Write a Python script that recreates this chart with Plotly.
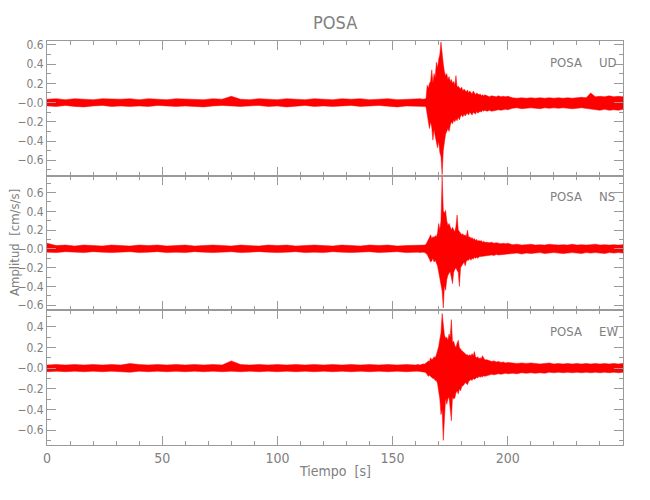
import plotly.graph_objects as go

# ---------------- data (envelopes) ----------------
tiempo = [
    0, 4, 8, 12, 16, 20, 24, 28, 32, 36,
    40, 44, 48, 52, 56, 60, 64, 68, 72, 76,
    80, 84, 88, 92, 96, 100, 104, 108, 112, 116,
    120, 124, 128, 132, 136, 140, 144, 148, 152, 156,
    160,
    161, 162, 163,
    164.0, 164.5, 165.0, 165.5, 166.0, 166.5, 167.0, 167.5, 168.0, 168.5,
    169.0, 169.5, 170.0, 170.5, 171.0, 171.5, 172.0, 172.5, 173.0, 173.5,
    174.0, 174.5, 175.0, 175.5, 176.0, 176.5, 177.0, 177.5, 178.0, 178.5,
    179.0, 179.5, 180.0, 180.5, 181.0, 181.5, 182.0, 182.5, 183.0, 183.5,
    184.0, 184.5, 185.0, 185.5, 186.0, 186.5, 187.0, 187.5, 188.0, 188.5,
    189.0, 189.5, 190.0,
    191, 192, 193, 194, 195, 196, 197, 198, 199, 200,
    202, 204, 206, 208, 210, 212, 214, 216, 218, 220,
    222, 224, 226, 228, 230, 232, 234, 236, 238, 240,
    242, 244, 246, 248, 250,
]

ud_hi = [
    0.035, 0.04, 0.03, 0.04, 0.035, 0.03, 0.04, 0.035, 0.035, 0.04,
    0.03, 0.04, 0.035, 0.03, 0.04, 0.035, 0.035, 0.03, 0.04, 0.035,
    0.065, 0.035, 0.03, 0.04, 0.035, 0.03, 0.04, 0.035, 0.03, 0.04,
    0.035, 0.03, 0.04, 0.035, 0.04, 0.03, 0.035, 0.04, 0.03, 0.035,
    0.035,
    0.035, 0.04, 0.035,
    0.04, 0.04, 0.18, 0.15, 0.2, 0.22, 0.34, 0.2, 0.3, 0.26,
    0.42, 0.36, 0.45, 0.5, 0.63, 0.46, 0.4, 0.32, 0.28, 0.3,
    0.24, 0.27, 0.22, 0.24, 0.2, 0.22, 0.18, 0.28, 0.16, 0.17,
    0.15, 0.14, 0.16, 0.12, 0.14, 0.13, 0.11, 0.13, 0.1, 0.12,
    0.11, 0.09, 0.12, 0.1, 0.08, 0.1, 0.09, 0.08, 0.09, 0.07,
    0.08, 0.07, 0.08,
    0.07, 0.06, 0.07, 0.065, 0.06, 0.07, 0.06, 0.065, 0.06, 0.065,
    0.05, 0.045, 0.05, 0.045, 0.05, 0.045, 0.05, 0.045, 0.05, 0.045,
    0.05, 0.045, 0.05, 0.045, 0.05, 0.055, 0.05, 0.1, 0.06, 0.065,
    0.06, 0.07, 0.06, 0.065, 0.06,
]
ud_lo = [
    -0.035, -0.04, -0.03, -0.04, -0.045, -0.035, -0.03, -0.04, -0.035, -0.04,
    -0.035, -0.04, -0.03, -0.035, -0.04, -0.035, -0.04, -0.045, -0.035, -0.03,
    -0.035, -0.04, -0.035, -0.03, -0.04, -0.035, -0.045, -0.035, -0.03, -0.04,
    -0.035, -0.04, -0.035, -0.03, -0.04, -0.035, -0.03, -0.04, -0.045, -0.035,
    -0.04,
    -0.04, -0.035, -0.04,
    -0.04, -0.045, -0.16, -0.2, -0.27, -0.2, -0.26, -0.39, -0.28, -0.35,
    -0.42, -0.47, -0.4, -0.52, -0.56, -0.75, -0.5, -0.41, -0.33, -0.3,
    -0.27, -0.3, -0.24, -0.2, -0.22, -0.18, -0.2, -0.17, -0.19, -0.15,
    -0.18, -0.14, -0.13, -0.15, -0.12, -0.14, -0.12, -0.11, -0.13, -0.1,
    -0.12, -0.13, -0.1, -0.11, -0.12, -0.09, -0.11, -0.1, -0.09, -0.1,
    -0.08, -0.09, -0.08,
    -0.09, -0.08, -0.09, -0.085, -0.08, -0.075, -0.08, -0.075, -0.07, -0.075,
    -0.06, -0.055, -0.065, -0.06, -0.055, -0.06, -0.065, -0.055, -0.06, -0.055,
    -0.06, -0.055, -0.06, -0.065, -0.06, -0.055, -0.065, -0.07, -0.075, -0.08,
    -0.07, -0.08, -0.075, -0.08, -0.07,
]

ns_hi = [
    0.06, 0.035, 0.04, 0.03, 0.04, 0.035, 0.03, 0.04, 0.035, 0.03,
    0.04, 0.035, 0.04, 0.03, 0.035, 0.04, 0.03, 0.035, 0.04, 0.035,
    0.03, 0.04, 0.035, 0.03, 0.04, 0.035, 0.04, 0.03, 0.035, 0.04,
    0.035, 0.03, 0.04, 0.035, 0.03, 0.04, 0.035, 0.04, 0.03, 0.035,
    0.04,
    0.04, 0.035, 0.04,
    0.04, 0.05, 0.07, 0.1, 0.12, 0.15, 0.11, 0.13, 0.12, 0.14,
    0.13, 0.17, 0.27, 0.2, 0.3, 0.77, 0.41, 0.38, 0.41, 0.3,
    0.25, 0.27, 0.22, 0.2, 0.23, 0.21, 0.18, 0.24, 0.36, 0.2,
    0.18, 0.17, 0.15, 0.16, 0.14, 0.15, 0.13, 0.2, 0.12, 0.13,
    0.11, 0.12, 0.1, 0.11, 0.09, 0.1, 0.08, 0.09, 0.08, 0.09,
    0.07, 0.08, 0.07,
    0.07, 0.065, 0.07, 0.06, 0.065, 0.06, 0.055, 0.06, 0.055, 0.06,
    0.045, 0.05, 0.04, 0.045, 0.05, 0.04, 0.045, 0.04, 0.05, 0.045,
    0.04, 0.045, 0.04, 0.05, 0.04, 0.045, 0.04, 0.045, 0.05, 0.04,
    0.045, 0.04, 0.045, 0.04, 0.045,
]
ns_lo = [
    -0.035, -0.04, -0.03, -0.035, -0.04, -0.03, -0.035, -0.04, -0.035, -0.03,
    -0.04, -0.035, -0.03, -0.04, -0.035, -0.04, -0.03, -0.035, -0.04, -0.035,
    -0.03, -0.04, -0.035, -0.03, -0.035, -0.04, -0.035, -0.03, -0.04, -0.035,
    -0.04, -0.03, -0.035, -0.04, -0.035, -0.03, -0.04, -0.035, -0.03, -0.04,
    -0.035,
    -0.035, -0.04, -0.035,
    -0.04, -0.05, -0.06, -0.08, -0.11, -0.14, -0.13, -0.1, -0.14, -0.12,
    -0.15, -0.18, -0.23, -0.3, -0.37, -0.45, -0.63, -0.39, -0.44, -0.33,
    -0.28, -0.26, -0.24, -0.3, -0.37, -0.25, -0.22, -0.2, -0.23, -0.25,
    -0.4, -0.2, -0.17, -0.16, -0.14, -0.18, -0.13, -0.12, -0.12, -0.1,
    -0.12, -0.1, -0.11, -0.09, -0.1, -0.09, -0.1, -0.085, -0.09, -0.08,
    -0.085, -0.075, -0.08,
    -0.075, -0.07, -0.065, -0.07, -0.06, -0.065, -0.06, -0.055, -0.06, -0.055,
    -0.05, -0.045, -0.055, -0.045, -0.05, -0.045, -0.04, -0.05, -0.045, -0.04,
    -0.045, -0.05, -0.045, -0.04, -0.045, -0.05, -0.04, -0.045, -0.04, -0.045,
    -0.05, -0.04, -0.045, -0.04, -0.045,
]

ew_hi = [
    0.03, 0.035, 0.03, 0.035, 0.03, 0.035, 0.03, 0.035, 0.03, 0.045,
    0.035, 0.03, 0.035, 0.03, 0.035, 0.03, 0.035, 0.03, 0.035, 0.03,
    0.07, 0.035, 0.03, 0.035, 0.03, 0.035, 0.03, 0.035, 0.03, 0.035,
    0.03, 0.035, 0.03, 0.035, 0.03, 0.035, 0.03, 0.035, 0.03, 0.035,
    0.03,
    0.035, 0.03, 0.04,
    0.04, 0.05, 0.06, 0.07, 0.065, 0.1, 0.08, 0.09, 0.11, 0.1,
    0.13, 0.16, 0.21, 0.28, 0.34, 0.53, 0.4, 0.32, 0.29, 0.3,
    0.27, 0.33, 0.3, 0.47, 0.25, 0.26, 0.22, 0.2, 0.24, 0.27,
    0.2, 0.18, 0.17, 0.16, 0.15, 0.14, 0.13, 0.13, 0.12, 0.13,
    0.12, 0.14, 0.12, 0.16, 0.11, 0.1, 0.11, 0.09, 0.1, 0.09,
    0.12, 0.1, 0.08,
    0.08, 0.07, 0.065, 0.07, 0.06, 0.065, 0.055, 0.06, 0.05, 0.055,
    0.05, 0.045, 0.05, 0.045, 0.05, 0.045, 0.04, 0.045, 0.05, 0.04,
    0.045, 0.04, 0.045, 0.04, 0.045, 0.04, 0.045, 0.04, 0.045, 0.04,
    0.045, 0.04, 0.045, 0.04, 0.045,
]
ew_lo = [
    -0.035, -0.03, -0.035, -0.03, -0.035, -0.03, -0.035, -0.03, -0.035, -0.04,
    -0.03, -0.035, -0.03, -0.035, -0.03, -0.035, -0.03, -0.035, -0.03, -0.035,
    -0.03, -0.035, -0.03, -0.035, -0.03, -0.035, -0.03, -0.035, -0.03, -0.035,
    -0.03, -0.035, -0.03, -0.035, -0.03, -0.035, -0.03, -0.035, -0.03, -0.035,
    -0.03,
    -0.03, -0.035, -0.035,
    -0.04, -0.045, -0.06, -0.08, -0.07, -0.075, -0.09, -0.1, -0.1, -0.12,
    -0.12, -0.15, -0.19, -0.3, -0.45, -0.4, -0.7, -0.48, -0.29, -0.35,
    -0.3, -0.28, -0.35, -0.51, -0.28, -0.3, -0.29, -0.24, -0.22, -0.25,
    -0.2, -0.22, -0.18, -0.17, -0.16, -0.14, -0.15, -0.16, -0.13, -0.12,
    -0.11, -0.12, -0.1, -0.11, -0.1, -0.09, -0.095, -0.08, -0.09, -0.08,
    -0.085, -0.075, -0.08,
    -0.07, -0.065, -0.06, -0.065, -0.06, -0.055, -0.06, -0.055, -0.05, -0.055,
    -0.05, -0.055, -0.045, -0.05, -0.045, -0.05, -0.045, -0.05, -0.04, -0.045,
    -0.04, -0.045, -0.04, -0.045, -0.04, -0.045, -0.04, -0.045, -0.04, -0.045,
    -0.04, -0.045, -0.04, -0.045, -0.04,
]

estacion = "POSA"
componentes = ["UD", "NS", "EW"]
y_rangos = [[-0.76, 0.64], [-0.655, 0.78], [-0.745, 0.56]]
y_ticks = [
    [0.6, 0.4, 0.2, 0.0, -0.2, -0.4, -0.6],
    [0.6, 0.4, 0.2, 0.0, -0.2, -0.4, -0.6],
    [0.4, 0.2, 0.0, -0.2, -0.4, -0.6],
]
x_ticks = [0, 50, 100, 150, 200]

# ---------------- figure ----------------
for arr in (ud_hi, ud_lo, ns_hi, ns_lo, ew_hi, ew_lo):
    assert len(arr) == len(tiempo), len(arr)

AX = "#9a9a9a"
TXT = "#808080"
FONT = "DejaVu Sans Condensed, Liberation Sans Narrow, DejaVu Sans, sans-serif"

def lab(v):
    if abs(v) < 1e-9:
        return "\u22120.0"
    return ("\u2212%.1f" % abs(v)) if v < 0 else "%.1f" % v

fig = go.Figure()
envs = [(ud_hi, ud_lo), (ns_hi, ns_lo), (ew_hi, ew_lo)]
for i, (hi, lo) in enumerate(envs):
    k = "" if i == 0 else str(i + 1)
    fig.add_trace(go.Scatter(
        x=list(tiempo) + list(tiempo)[::-1],
        y=list(hi) + list(lo)[::-1],
        mode="lines", fill="toself", fillcolor="#ff0000",
        line=dict(color="#ff0000", width=0.5),
        xaxis="x" + k, yaxis="y" + k, showlegend=False, hoverinfo="skip",
    ))

h = 1.0 / 3
domains = [[2 * h, 1.0], [h, 2 * h], [0.0, h]]
layout = dict(
    width=650, height=500,
    margin=dict(l=47, r=27, t=41, b=55, autoexpand=False),
    paper_bgcolor="white", plot_bgcolor="white",
    font=dict(family=FONT, color=TXT),
    showlegend=False,
)
for i in range(3):
    k = "" if i == 0 else str(i + 1)
    layout["xaxis" + k] = dict(
        domain=[0, 1], anchor="y" + k, range=[0, 250], automargin=False,
        tickmode="array", tickvals=x_ticks, ticktext=[str(v) for v in x_ticks],
        showticklabels=(i == 2), ticks="inside", ticklen=9, tickcolor=AX,
        tickwidth=1, minor=dict(dtick=10, tick0=0, ticks="inside", ticklen=4, tickcolor=AX),
        showline=True, linecolor=AX, linewidth=1, mirror="allticks",
        showgrid=False, zeroline=False, tickfont=dict(size=14, color=TXT),
    )
    layout["yaxis" + k] = dict(
        domain=domains[i], anchor="x" + k, range=y_rangos[i], automargin=False,
        tickmode="array", tickvals=y_ticks[i], ticktext=[lab(v) for v in y_ticks[i]],
        ticks="inside", ticklen=9, tickcolor=AX, tickwidth=1,
        minor=dict(dtick=0.1, tick0=0, ticks="inside", ticklen=4, tickcolor=AX),
        showline=True, linecolor=AX, linewidth=1, mirror="allticks",
        showgrid=False, zeroline=False, tickfont=dict(size=12, color=TXT),
    )
fig.update_layout(**layout)

ph = 404.0
pw = 576.0
ann = [
    dict(text=estacion, x=0.5, y=1 + 18 / ph, xref="paper", yref="paper",
         xanchor="center", yanchor="middle", showarrow=False, font=dict(size=18, color=TXT)),
    dict(text="Tiempo  [s]", x=0.5, y=-26 / ph, xref="paper", yref="paper",
         xanchor="center", yanchor="middle", showarrow=False, font=dict(size=14, color=TXT)),
    dict(text="Amplitud  [cm/s/s]", x=-33 / pw, y=0.5, xref="paper", yref="paper",
         xanchor="center", yanchor="middle", textangle=-90, showarrow=False,
         font=dict(size=13, color=TXT)),
]
for i, comp in enumerate(componentes):
    ytop = domains[i][1] - 21 / ph
    ann.append(dict(text=estacion, x=(584 - 47) / pw, y=ytop, xref="paper", yref="paper",
                    xanchor="right", yanchor="middle", showarrow=False,
                    font=dict(size=13, color=TXT)))
    ann.append(dict(text=comp, x=(597 - 47) / pw, y=ytop, xref="paper", yref="paper",
                    xanchor="left", yanchor="middle", showarrow=False,
                    font=dict(size=13, color=TXT)))
fig.update_layout(annotations=ann)

fig.write_html("out.html", config={"displayModeBar": False},
               post_script="document.body.style.margin='0';")
